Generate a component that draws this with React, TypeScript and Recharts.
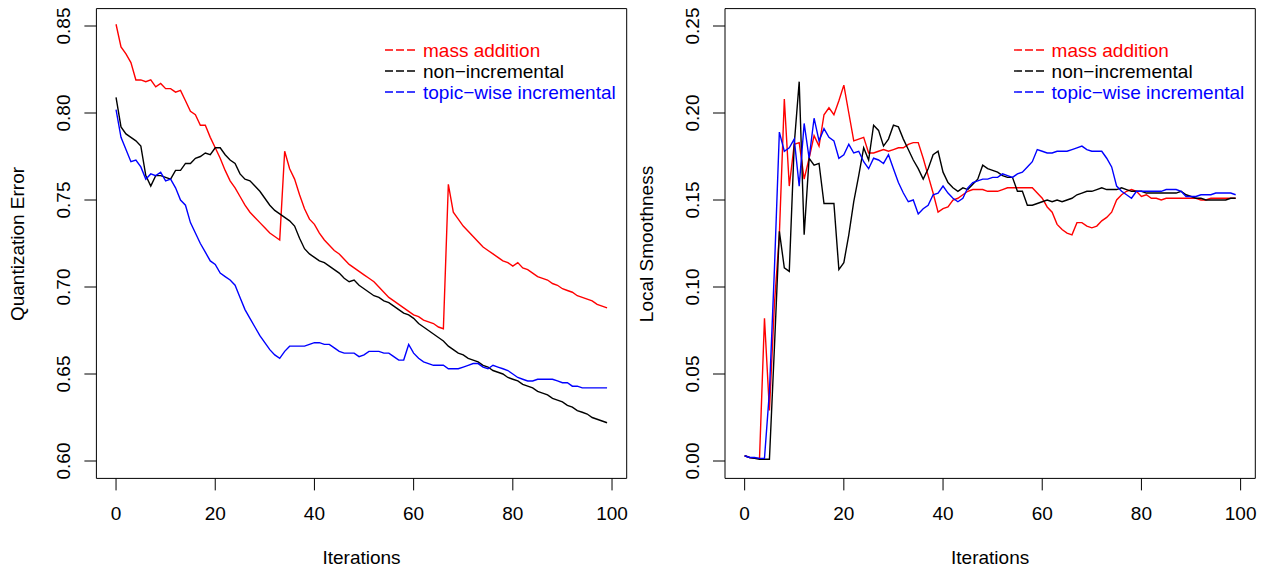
import { LineChart, Line, XAxis, YAxis, ReferenceArea } from "recharts";

const FONT = '"Liberation Sans", Arial, Helvetica, sans-serif';

const iterations = Array.from({ length: 100 }, (_, i) => i);
const xTicks = [0, 20, 40, 60, 80, 100];
const qeTicks = [0.6, 0.65, 0.7, 0.75, 0.8, 0.85];
const lsTicks = [0, 0.05, 0.1, 0.15, 0.2, 0.25];

const seriesNames = ["mass addition", "non\u2212incremental", "topic\u2212wise incremental"];
const seriesColors = ["#ff0000", "#000000", "#0000ff"];

// quantization error
const qeMass = [
  0.851, 0.838, 0.834, 0.829, 0.819, 0.819, 0.818, 0.819, 0.815, 0.817,
  0.814, 0.814, 0.812, 0.813, 0.807, 0.801, 0.799, 0.793, 0.793, 0.786,
  0.78, 0.774, 0.767, 0.761, 0.757, 0.752, 0.747, 0.743, 0.74, 0.737,
  0.734, 0.731, 0.729, 0.727, 0.778, 0.768, 0.762, 0.753, 0.745, 0.739,
  0.736, 0.731, 0.727, 0.724, 0.721, 0.719, 0.716, 0.713, 0.711, 0.709,
  0.707, 0.705, 0.703, 0.7, 0.697, 0.694, 0.692, 0.69, 0.688, 0.686,
  0.684, 0.683, 0.681, 0.68, 0.679, 0.677, 0.676, 0.759, 0.743, 0.739,
  0.735, 0.732, 0.729, 0.726, 0.723, 0.721, 0.719, 0.717, 0.715, 0.714,
  0.712, 0.714, 0.711, 0.71, 0.708, 0.706, 0.705, 0.704, 0.702, 0.701,
  0.699, 0.698, 0.697, 0.695, 0.694, 0.693, 0.692, 0.69, 0.689, 0.688,
];
const qeNonInc = [
  0.809, 0.792, 0.788, 0.786, 0.784, 0.781, 0.764, 0.758, 0.764, 0.764,
  0.763, 0.762, 0.767, 0.767, 0.771, 0.771, 0.774, 0.775, 0.777, 0.776,
  0.78, 0.78, 0.776, 0.773, 0.771, 0.765, 0.762, 0.761, 0.758, 0.755,
  0.751, 0.747, 0.744, 0.742, 0.74, 0.738, 0.735, 0.728, 0.722, 0.719,
  0.717, 0.715, 0.714, 0.712, 0.71, 0.708, 0.705, 0.703, 0.704, 0.701,
  0.699, 0.697, 0.695, 0.694, 0.692, 0.691, 0.689, 0.687, 0.685, 0.684,
  0.682, 0.679, 0.677, 0.675, 0.673, 0.671, 0.669, 0.666, 0.664, 0.662,
  0.661, 0.659, 0.658, 0.657, 0.655, 0.654, 0.652, 0.651, 0.65, 0.648,
  0.647, 0.646, 0.644, 0.643, 0.642, 0.64, 0.639, 0.638, 0.636, 0.635,
  0.634, 0.632, 0.631, 0.629, 0.628, 0.627, 0.625, 0.624, 0.623, 0.622,
];
const qeTopic = [
  0.802, 0.786, 0.779, 0.772, 0.773, 0.769, 0.762, 0.765, 0.764, 0.766,
  0.761, 0.762, 0.757, 0.75, 0.747, 0.737, 0.731, 0.725, 0.72, 0.715,
  0.713, 0.708, 0.706, 0.704, 0.701, 0.694, 0.687, 0.682, 0.677, 0.672,
  0.668, 0.664, 0.661, 0.659, 0.663, 0.666, 0.666, 0.666, 0.666, 0.667,
  0.668, 0.668, 0.667, 0.667, 0.665, 0.663, 0.662, 0.662, 0.662, 0.66,
  0.661, 0.663, 0.663, 0.663, 0.662, 0.662, 0.66, 0.658, 0.658, 0.667,
  0.662, 0.659, 0.657, 0.656, 0.655, 0.655, 0.655, 0.653, 0.653, 0.653,
  0.654, 0.655, 0.656, 0.656, 0.654, 0.653, 0.655, 0.654, 0.653, 0.652,
  0.65, 0.648, 0.647, 0.646, 0.646, 0.647, 0.647, 0.647, 0.647, 0.646,
  0.645, 0.645, 0.643, 0.643, 0.642, 0.642, 0.642, 0.642, 0.642, 0.642,
];

// local smoothness
const lsMass = [
  0.003, 0.002, 0.0015, 0.0015, 0.082, 0.029, 0.09, 0.13, 0.208, 0.158,
  0.182, 0.183, 0.162, 0.174, 0.187, 0.181, 0.199, 0.203, 0.199, 0.207,
  0.216, 0.2, 0.184, 0.185, 0.186, 0.177, 0.177, 0.178, 0.179, 0.178,
  0.179, 0.18, 0.18, 0.182, 0.183, 0.183, 0.174, 0.164, 0.154, 0.143,
  0.145, 0.146, 0.15, 0.151, 0.153, 0.155, 0.156, 0.156, 0.156, 0.155,
  0.155, 0.155, 0.156, 0.157, 0.157, 0.157, 0.157, 0.157, 0.157, 0.154,
  0.151, 0.146, 0.143, 0.136, 0.133, 0.131, 0.13, 0.137, 0.137, 0.135,
  0.134, 0.135, 0.138, 0.14, 0.143, 0.15, 0.153, 0.155, 0.156, 0.155,
  0.152, 0.153, 0.151, 0.151, 0.15, 0.151, 0.151, 0.151, 0.151, 0.151,
  0.151, 0.151, 0.15, 0.15, 0.151, 0.151, 0.151, 0.151, 0.151, 0.151,
];
const lsNonInc = [
  0.003, 0.002, 0.0015, 0.001, 0.001, 0.001, 0.065, 0.132, 0.111, 0.109,
  0.182, 0.218, 0.13, 0.174, 0.17, 0.171, 0.148, 0.148, 0.148, 0.11,
  0.114, 0.13, 0.149, 0.164, 0.18, 0.173, 0.193, 0.19, 0.181, 0.185,
  0.193, 0.192, 0.185, 0.179, 0.173, 0.168, 0.162, 0.168, 0.176, 0.178,
  0.166, 0.16, 0.157, 0.155, 0.157, 0.156, 0.159, 0.162, 0.17, 0.168,
  0.167, 0.166, 0.164, 0.163, 0.163, 0.155, 0.155, 0.147, 0.147, 0.148,
  0.149, 0.15, 0.149, 0.15, 0.149, 0.15, 0.151, 0.153, 0.154, 0.155,
  0.155, 0.156, 0.157, 0.156, 0.156, 0.156, 0.157, 0.156, 0.155, 0.155,
  0.155, 0.154, 0.154, 0.154, 0.154, 0.154, 0.154, 0.154, 0.155, 0.153,
  0.152, 0.151, 0.151, 0.15, 0.15, 0.15, 0.15, 0.15, 0.151, 0.151,
];
const lsTopic = [
  0.003, 0.002, 0.002, 0.0015, 0.0015, 0.04, 0.11, 0.189, 0.178, 0.18,
  0.185, 0.158, 0.194, 0.174, 0.197, 0.184, 0.191, 0.186, 0.184, 0.174,
  0.176, 0.182, 0.177, 0.178, 0.172, 0.168, 0.174, 0.173, 0.171, 0.176,
  0.168, 0.16, 0.154, 0.149, 0.15, 0.142, 0.145, 0.147, 0.153, 0.154,
  0.158, 0.154, 0.151, 0.149, 0.151, 0.157, 0.16, 0.161, 0.162, 0.162,
  0.163, 0.163, 0.165, 0.164, 0.163, 0.165, 0.166, 0.169, 0.172, 0.179,
  0.178, 0.177, 0.177, 0.178, 0.178, 0.178, 0.179, 0.18, 0.181, 0.179,
  0.178, 0.178, 0.178, 0.174, 0.169, 0.158, 0.155, 0.153, 0.151, 0.155,
  0.155, 0.155, 0.155, 0.155, 0.155, 0.156, 0.156, 0.156, 0.155, 0.152,
  0.152, 0.152, 0.153, 0.153, 0.153, 0.154, 0.154, 0.154, 0.154, 0.153,
];

const PANEL_W = 634;
const H = 567;
const PLOT_TOP = 8.6;
const PLOT_BOTTOM = 478.4;
const X_AXIS_H = 60;
const X_DOMAIN: [number, number] = [-3.96, 102.96];

const XTick = (props: any) => {
  const { x, y, payload } = props;
  return (
    <text x={x} y={y} textAnchor="middle" dominantBaseline="central" fontSize={19} fontFamily={FONT} fill="#000">
      {payload.value}
    </text>
  );
};

const YTick = (props: any) => {
  const { x, y, payload } = props;
  return (
    <text
      x={x}
      y={y}
      transform={`rotate(-90 ${x} ${y})`}
      textAnchor="middle"
      dominantBaseline="central"
      fontSize={19}
      fontFamily={FONT}
      fill="#000"
    >
      {payload.value.toFixed(2)}
    </text>
  );
};

function Panel(props: {
  left: number;
  axisW: number;
  rightM: number;
  yDomain: [number, number];
  yTicks: number[];
  yTitle: string;
  mass: number[];
  nonInc: number[];
  topic: number[];
}) {
  const { left, axisW, rightM, yDomain, yTicks, yTitle, mass, nonInc, topic } = props;
  const rows = iterations.map((it, k) => ({ it, mass: mass[k], nonInc: nonInc[k], topic: topic[k] }));
  const boxRight = PANEL_W - rightM;
  const midX = (axisW + boxRight) / 2;
  const midY = (PLOT_TOP + PLOT_BOTTOM) / 2;

  return (
    <div style={{ position: "absolute", left, top: 0, width: PANEL_W, height: H }}>
      <LineChart
        width={PANEL_W}
        height={H}
        data={rows}
        margin={{ top: PLOT_TOP, right: rightM, bottom: H - PLOT_BOTTOM - X_AXIS_H, left: 0 }}
      >
        <XAxis
          dataKey="it"
          type="number"
          domain={X_DOMAIN}
          ticks={xTicks}
          interval={0}
          allowDataOverflow
          axisLine={false}
          tickSize={12}
          tickMargin={23}
          tickLine={{ stroke: "#000" }}
          height={X_AXIS_H}
          tick={XTick}
        />
        <YAxis
          type="number"
          domain={yDomain}
          ticks={yTicks}
          interval={0}
          allowDataOverflow
          width={axisW}
          axisLine={false}
          tickSize={12}
          tickMargin={21}
          tickLine={{ stroke: "#000" }}
          tick={YTick}
        />
        <ReferenceArea
          x1={X_DOMAIN[0]}
          x2={X_DOMAIN[1]}
          y1={yDomain[0]}
          y2={yDomain[1]}
          fill="none"
          fillOpacity={0}
          stroke="#000"
          strokeWidth={1}
          ifOverflow="visible"
        />
        <Line type="linear" dataKey="mass" stroke={seriesColors[0]} strokeWidth={1.4} dot={false} isAnimationActive={false} />
        <Line type="linear" dataKey="nonInc" stroke={seriesColors[1]} strokeWidth={1.4} dot={false} isAnimationActive={false} />
        <Line type="linear" dataKey="topic" stroke={seriesColors[2]} strokeWidth={1.4} dot={false} isAnimationActive={false} />
      </LineChart>

      {/* legend */}
      <div style={{ position: "absolute", left: axisW + 288.6, top: 39.5, fontFamily: FONT, fontSize: 19 }}>
        {seriesNames.map((name, k) => (
          <div key={name} style={{ display: "flex", alignItems: "center", height: 21 }}>
            <svg width={30} height={4} style={{ marginRight: 8 }}>
              <line x1={0} y1={2} x2={30} y2={2} stroke={seriesColors[k]} strokeWidth={1.4} strokeDasharray="8 3" />
            </svg>
            <span style={{ color: seriesColors[k], whiteSpace: "nowrap", lineHeight: "21px" }}>{name}</span>
          </div>
        ))}
      </div>

      {/* axis titles */}
      <div
        style={{
          position: "absolute",
          left: midX,
          top: 558,
          transform: "translate(-50%, -50%)",
          fontFamily: FONT,
          fontSize: 19,
          whiteSpace: "nowrap",
        }}
      >
        Iterations
      </div>
      <div
        style={{
          position: "absolute",
          left: axisW - 78,
          top: midY,
          transform: "translate(-50%, -50%) rotate(-90deg)",
          fontFamily: FONT,
          fontSize: 19,
          whiteSpace: "nowrap",
        }}
      >
        {yTitle}
      </div>
    </div>
  );
}

export default function App() {
  return (
    <div style={{ position: "absolute", left: 0, top: 0, width: 1268, height: H, background: "#fff" }}>
      <Panel
        left={0}
        axisW={96.4}
        rightM={7.3}
        yDomain={[0.59, 0.86]}
        yTicks={qeTicks}
        yTitle="Quantization Error"
        mass={qeMass}
        nonInc={qeNonInc}
        topic={qeTopic}
      />
      <Panel
        left={634}
        axisW={91}
        rightM={12.7}
        yDomain={[-0.01, 0.26]}
        yTicks={lsTicks}
        yTitle="Local Smoothness"
        mass={lsMass}
        nonInc={lsNonInc}
        topic={lsTopic}
      />
    </div>
  );
}
